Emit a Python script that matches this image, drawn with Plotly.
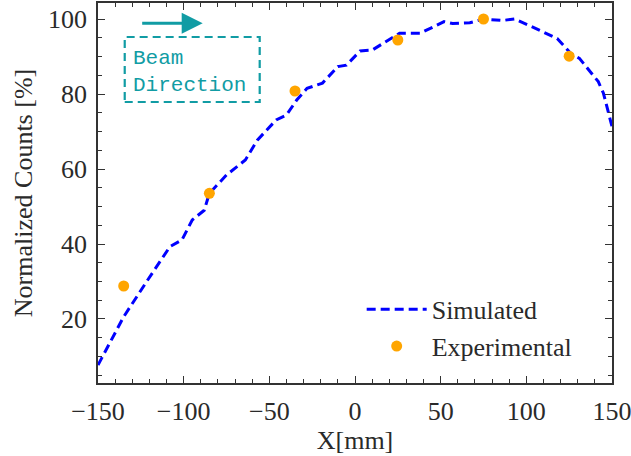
import plotly.graph_objects as go

sim_x = [-150, -135, -121, -108, -101, -95, -88, -85, -75, -64, -57, -46, -40, -34, -28, -19,
         -10, -5, 3, 10, 26, 38, 52, 57, 67, 75, 86, 93, 103, 118, 126, 131, 142, 145, 148, 150]
sim_y = [7.7, 20.6, 30.4, 39.3, 41.1, 46.4, 49.0, 53.5, 58.4, 62.4, 67.7, 73.1, 74.4, 78.4, 81.5, 82.9,
         87.3, 87.7, 91.5, 91.7, 96.2, 96.2, 99.3, 98.8, 99.0, 100.0, 99.6, 100.0, 98.0, 94.8, 90.8, 89.5,
         83.3, 80.2, 74.9, 71.3]

exp_x = [-135, -85, -35, 25, 75, 125]
exp_y = [28.8, 53.5, 80.8, 94.4, 100.0, 90.1]

x_ticks = [-150, -100, -50, 0, 50, 100, 150]
y_ticks = [20, 40, 60, 80, 100]

TEAL = "#119ca4"
AX = "#333333"
TXT = "#2a2a2a"
FONT = "Liberation Serif"

fig = go.Figure()
fig.add_trace(go.Scatter(x=sim_x, y=sim_y, mode="lines", name="Simulated",
                         line=dict(color="#0000ff", width=3, dash="9px,5px")))
fig.add_trace(go.Scatter(x=exp_x, y=exp_y, mode="markers", name="Experimental",
                         marker=dict(color="#ffa500", size=11)))

axis_common = dict(
    showgrid=False, zeroline=False, showline=True, linecolor=AX, linewidth=1.5,
    mirror="allticks", ticks="inside", ticklen=7, tickwidth=1.3, tickcolor=AX,
    tickfont=dict(family=FONT, size=26, color=TXT), automargin=False,
    ticklabeloverflow="allow",
)

fig.update_xaxes(range=[-150, 150], tickvals=x_ticks,
                 ticktext=["\u2212150", "\u2212100", "\u221250", "0", "50", "100", "150"],
                 minor=dict(dtick=10, ticks="inside", ticklen=4, tickwidth=1.1, tickcolor=AX),
                 title=dict(text="X[mm]", font=dict(family=FONT, size=26, color=TXT), standoff=0),
                 ticklabelstandoff=4,
                 **axis_common)
fig.update_yaxes(range=[2.93, 104.27], tickvals=y_ticks,
                 minor=dict(dtick=5, ticks="inside", ticklen=4, tickwidth=1.1, tickcolor=AX),
                 title=dict(text="Normalized Counts [%]", font=dict(family=FONT, size=26, color=TXT), standoff=8),
                 ticklabelstandoff=4,
                 **axis_common)

fig.add_shape(type="rect", xref="paper", yref="paper", x0=0.052, x1=0.3146, y0=0.7395, y1=0.9105,
              line=dict(color=TEAL, width=2.2, dash="8px,5px"), fillcolor="rgba(0,0,0,0)")
fig.add_annotation(xref="paper", yref="paper", x=0.064, y=0.818, xanchor="left", yanchor="middle",
                   text="Beam<br>Direction", showarrow=False, align="left",
                   font=dict(family="Liberation Mono", size=21, color=TEAL))
fig.add_annotation(x=-88.9, y=98.9, ax=-62, ay=0, text="", showarrow=True,
                   arrowhead=2, arrowsize=1.4, arrowwidth=3, arrowcolor=TEAL)

fig.update_layout(
    width=631, height=456, margin=dict(l=98, r=19, t=3, b=73),
    plot_bgcolor="white", paper_bgcolor="white",
    showlegend=True,
    legend=dict(x=0.513, y=0.145, xanchor="left", yanchor="middle", bgcolor="rgba(0,0,0,0)",
                itemwidth=60, tracegroupgap=0,
                font=dict(family=FONT, size=26, color=TXT)),
)

fig.write_html("out.html", config={"displayModeBar": False},
               post_script="document.body.style.margin='0';")
